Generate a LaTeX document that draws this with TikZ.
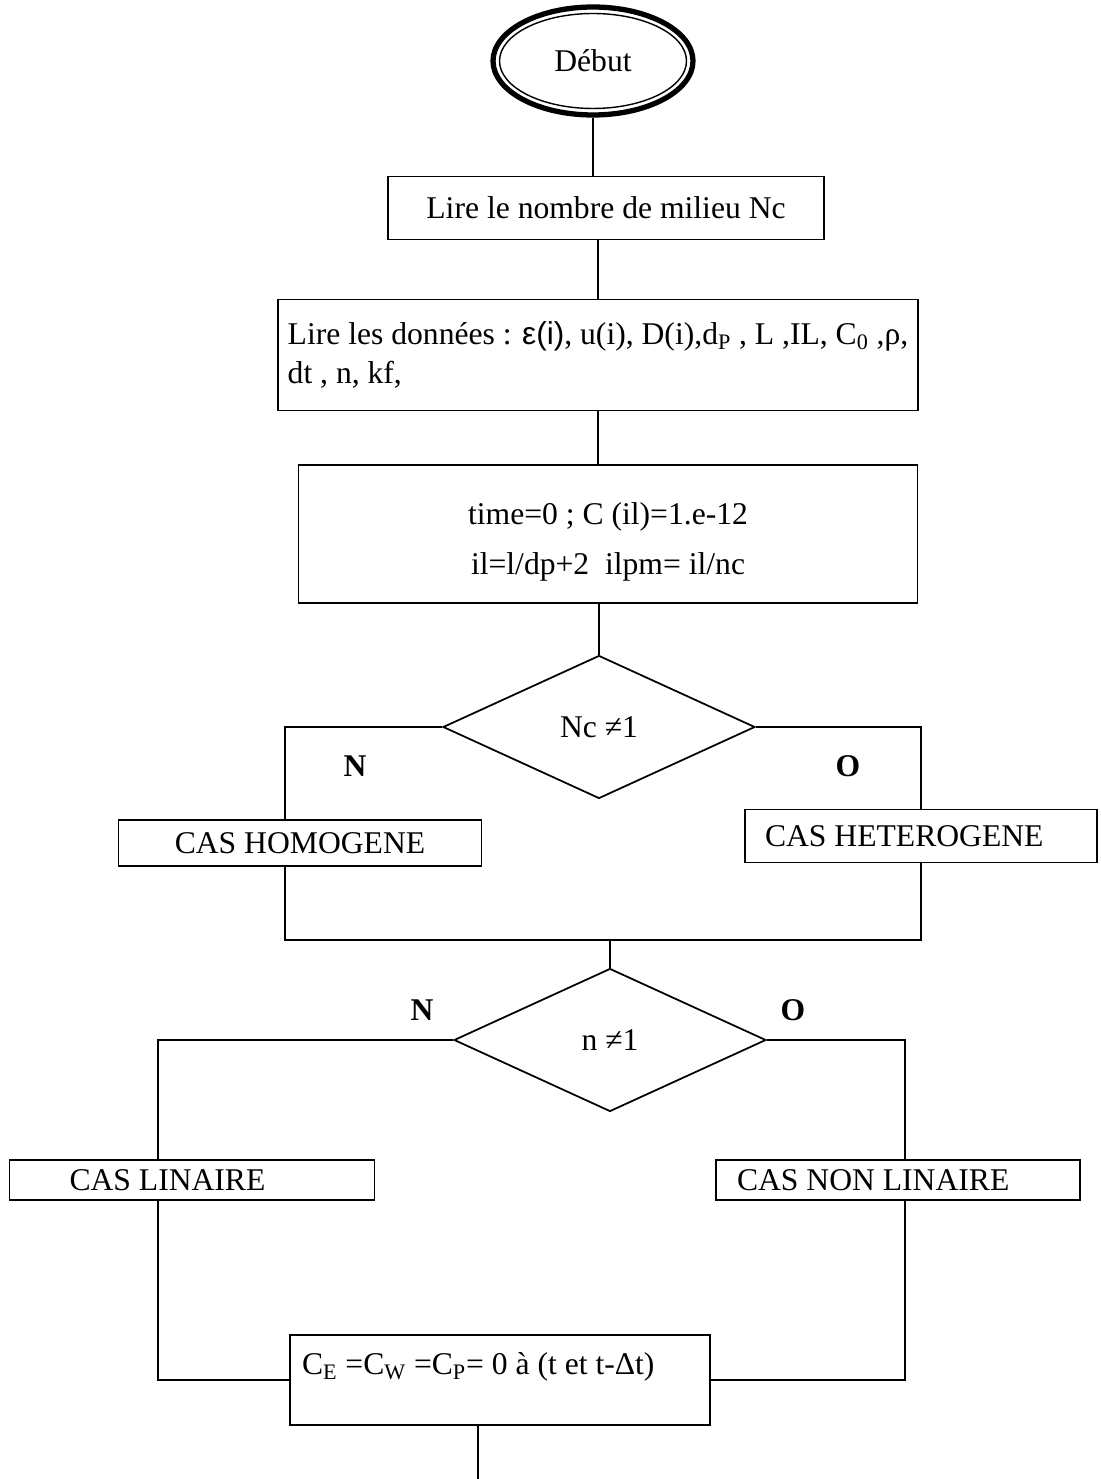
\documentclass[tikz,border=0pt]{standalone}
\usepackage{fontspec}
\setmainfont{Liberation Serif}
\setsansfont{Liberation Sans}
\usetikzlibrary{shapes.geometric,positioning}

\begin{document}
\begin{tikzpicture}[x=0.02cm, y=-0.02cm, line width=1pt,
    every node/.style={font=\fontsize{18}{22}\selectfont},
    box/.style={rectangle, draw, line width=1pt, inner sep=0pt},
    decision/.style={diamond, draw, line width=1pt, inner sep=0pt, minimum width=6.24cm, minimum height=2.86cm},
    answer/.style={font=\fontsize{18}{22}\selectfont\bfseries}]
    \useasboundingbox (0,0) rectangle (1100,1479);
    \node[ellipse, draw, line width=3pt, minimum width=4cm, minimum height=2.16cm] (debut) at (593,61) {Début};
    \draw[line width=0.8pt] (debut.center) ellipse [x radius=1.87cm, y radius=0.95cm];
    \node[box, minimum width=8.72cm, minimum height=1.26cm] (nombre) at (606,208) {Lire le nombre de milieu Nc};
    \node[box, minimum width=12.8cm, minimum height=2.22cm, align=left] (donnees) at (598,355) {Lire les données : {\sffamily ε(i)}, u(i), D(i),d\textsubscript{P} , L ,IL, C\textsubscript{0} ,ρ,\\dt , n, kf,};
    \node[box, minimum width=12.38cm, minimum height=2.76cm, align=center] (init) at (608,534) {\rule{0pt}{0.75cm}time=0 ; C (il)=1.e-12\\[6.5pt]il=l/dp+2\ \ ilpm= il/nc};
    \node[decision] (nc) at (599,727) {Nc ≠1};
    \node[box, minimum width=7.26cm, minimum height=0.92cm] (homog) at (300,843) {CAS HOMOGENE};
    \node[box, minimum height=1.06cm, inner xsep=0.4cm, text width=6.24cm, align=flush left] (heterog) at (921,836) {CAS HETEROGENE};
    \node[decision] (nn) at (610,1040) {n ≠1};
    \node[box, minimum height=0.8cm, inner xsep=1.2cm, text width=4.9cm, align=flush left] (lin) at (192,1180) {CAS LINAIRE};
    \node[box, minimum height=0.8cm, inner xsep=0.42cm, text width=6.44cm, align=flush left] (nonlin) at (898,1180) {CAS NON LINAIRE};
    \node[box, minimum height=1.8cm, inner xsep=0.24cm, text width=7.92cm, align=flush left, text depth=0.66cm] (zero) at (500,1380) {C\textsubscript{E} =C\textsubscript{W} =C\textsubscript{P}= 0 à (t et t-Δt)};
    \node[answer] (n1) at (355,766) {N};
    \node[answer] (o1) at (848,766) {O};
    \node[answer] (n2) at (422,1010) {N};
    \node[answer] (o2) at (793,1010) {O};
    \coordinate (merge) at (610,940);
    \coordinate (fin) at (478,1479);
    \draw (debut.south) -- (debut.south |- nombre.north);
    \draw (donnees.north |- nombre.south) -- (donnees.north);
    \draw (donnees.south) -- (donnees.south |- init.north);
    \draw (nc.north |- init.south) -- (nc.north);
    \draw (nc.west) -| ([xshift=-0.3cm]homog.north);
    \draw (nc.east) -| (heterog.north);
    \draw ([xshift=-0.3cm]homog.south) |- (merge) -| (heterog.south);
    \draw (merge) -- (nn.north);
    \draw (nn.west) -| ([xshift=-0.68cm]lin.north);
    \draw (nn.east) -| ([xshift=0.14cm]nonlin.north);
    \draw ([xshift=-0.68cm]lin.south) |- (zero.west);
    \draw ([xshift=0.14cm]nonlin.south) |- (zero.east);
    \draw ([xshift=-0.44cm]zero.south) -- (fin);
  \end{tikzpicture}
\end{document}
